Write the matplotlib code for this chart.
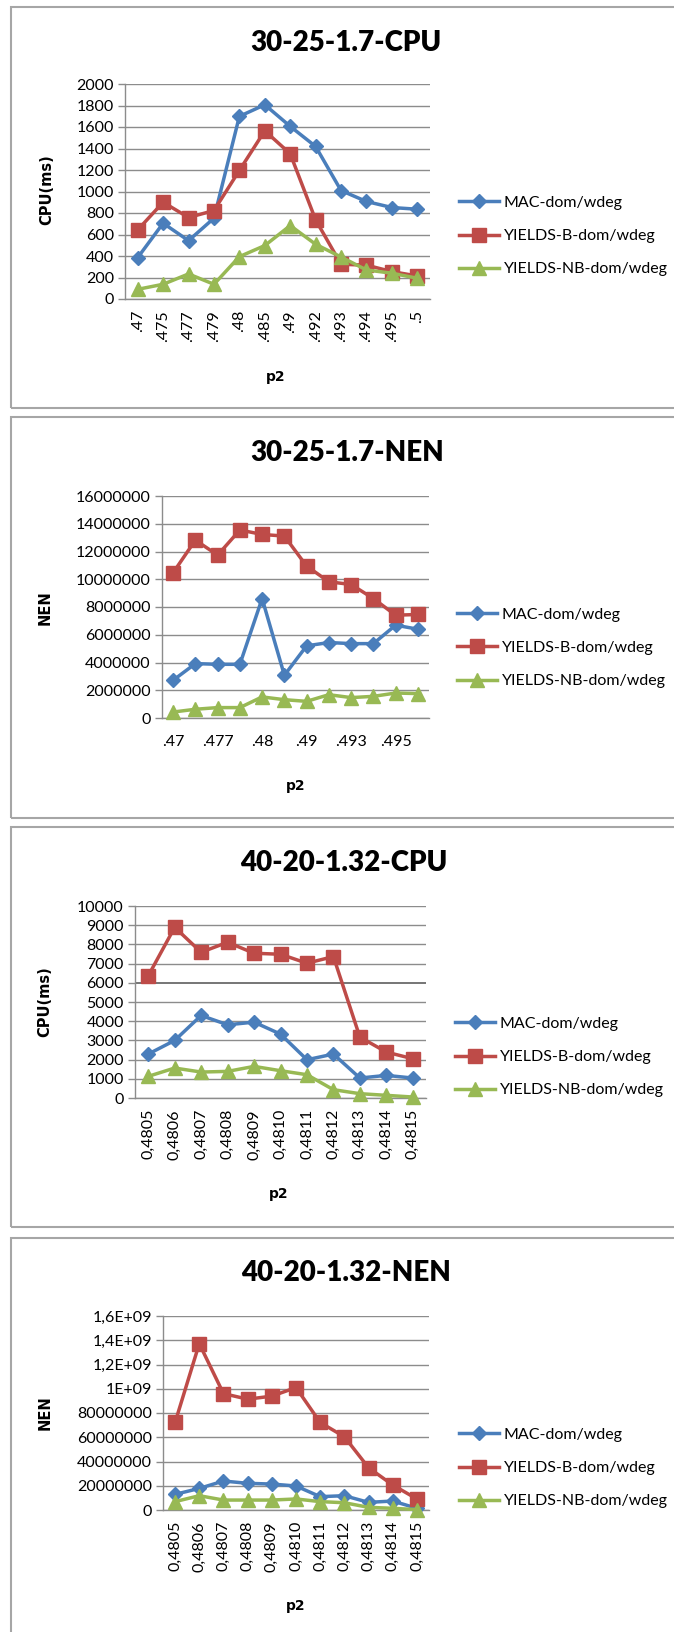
import matplotlib
matplotlib.use("Agg")
import matplotlib.pyplot as plt
from matplotlib.patches import Rectangle

W, H = 674, 1632
FONT = ["Lato", "DejaVu Sans"]
BOLD_LABEL = ["DejaVu Sans"]
plt.rcParams["font.family"] = FONT

series_names = ["MAC-dom/wdeg", "YIELDS-B-dom/wdeg", "YIELDS-NB-dom/wdeg"]
colors = ["#4A7EBB", "#BE4B48", "#98B954"]
markers = ["D", "s", "^"]
msizes = [7.5, 9.5, 9.5]

# 30-25-1.7
p2_a = [".47", ".475", ".477", ".479", ".48", ".485", ".49", ".492", ".493", ".494", ".495", ".5"]
cpu_a_mac = [385, 705, 543, 752, 1699, 1807, 1606, 1419, 1009, 907, 851, 835]
cpu_a_b = [643, 900, 758, 823, 1196, 1565, 1351, 736, 323, 315, 255, 214]
cpu_a_nb = [90, 137, 233, 137, 394, 497, 683, 509, 391, 270, 240, 193]

nen_a_mac = [2720000, 3920000, 3870000, 3870000, 8610000, 3080000, 5200000, 5440000, 5360000, 5360000, 6690000, 6400000]
nen_a_b = [10470000, 12820000, 11740000, 13550000, 13230000, 13110000, 10950000, 9820000, 9620000, 8610000, 7410000, 7460000]
nen_a_nb = [430000, 630000, 750000, 750000, 1520000, 1320000, 1200000, 1680000, 1470000, 1560000, 1800000, 1760000]

# 40-20-1.32
p2_b = ["0,4805", "0,4806", "0,4807", "0,4808", "0,4809", "0,4810", "0,4811", "0,4812", "0,4813", "0,4814", "0,4815"]
cpu_b_mac = [2288, 2998, 4298, 3813, 3951, 3328, 1993, 2288, 1040, 1178, 1040]
cpu_b_b = [6360, 8891, 7591, 8111, 7539, 7487, 7019, 7366, 3172, 2392, 2045]
cpu_b_nb = [1127, 1560, 1352, 1386, 1646, 1421, 1213, 433, 225, 139, 50]

nen_b_mac = [129e6, 178e6, 239e6, 220e6, 214e6, 198e6, 110e6, 118e6, 63e6, 74e6, 14e6]
nen_b_b = [722e6, 1372e6, 960e6, 914e6, 939e6, 1010e6, 722e6, 604e6, 349e6, 206e6, 91e6]
nen_b_nb = [69e6, 118e6, 82e6, 82e6, 82e6, 91e6, 69e6, 60e6, 22e6, 14e6, 3e6]

cpu_a_ticks = list(range(0, 2001, 200))
nen_a_ticks = list(range(0, 16000001, 2000000))
cpu_b_ticks = list(range(0, 10001, 1000))
nen_b_ticks = [i * 2e8 for i in range(9)]
nen_b_ticklabels = ["0", "20000000", "40000000", "60000000", "80000000",
                    "1E+09", "1,2E+09", "1,4E+09", "1,6E+09"]


def fx(x):
    return x / W


def fy(y):
    return 1 - y / H


def panel(fig, box, rect, title, title_xy, ylabel, ylabel_xy, p2_xy, leg_xy,
          labels, data, yticks, yticklabels=None, rotate=True, step=1, dark_grid=None):
    fig.patches.append(Rectangle((fx(11), fy(box[1])), fx(700), box[1] / H - box[0] / H,
                                 transform=fig.transFigure, fill=False,
                                 edgecolor="#a6a6a6", linewidth=1.5))
    l, t, r, b = rect
    ax = fig.add_axes([fx(l), fy(b), fx(r - l), (b - t) / H])
    x = list(range(len(labels)))
    for vals, name, c, m, ms in zip(data, series_names, colors, markers, msizes):
        ax.plot(x, vals, color=c, lw=2.5, marker=m, markersize=ms,
                markerfacecolor=c, markeredgecolor=c, label=name, clip_on=False, zorder=3)
    ax.set_xlim(-0.5, len(labels) - 0.5)
    ax.set_ylim(yticks[0], yticks[-1])
    ax.set_yticks(yticks)
    if yticklabels is not None:
        ax.set_yticklabels(yticklabels)
    else:
        ax.set_yticklabels([str(v) for v in yticks])
    ax.set_xticks(x[::step])
    ax.set_xticklabels(labels[::step], rotation=90 if rotate else 0)
    ax.grid(axis="y", color="#8c8c8c", lw=1.0)
    ax.set_axisbelow(True)
    if dark_grid is not None:
        ax.get_ygridlines()[dark_grid].set_color("#6a6a6a")
        ax.get_ygridlines()[dark_grid].set_linewidth(1.3)
    for s in ["top", "right"]:
        ax.spines[s].set_visible(False)
    for s in ["left", "bottom"]:
        ax.spines[s].set_color("#8c8c8c")
        ax.spines[s].set_linewidth(1.0)
    ax.tick_params(axis="y", length=5, width=1.0, color="#8c8c8c", pad=3, labelsize=11.5)
    ax.tick_params(axis="x", length=0, pad=8 if rotate else 12, labelsize=11.5)
    fig.text(fx(title_xy[0]), fy(title_xy[1]), title, ha="center", va="center",
             fontsize=20, fontweight="heavy")
    fig.text(fx(ylabel_xy[0]), fy(ylabel_xy[1]), ylabel, ha="center", va="center",
             rotation=90, fontsize=10.5, fontweight="bold", family=BOLD_LABEL)
    fig.text(fx(p2_xy[0]), fy(p2_xy[1]), "p2", ha="center", va="center",
             fontsize=10, fontweight="bold", family=BOLD_LABEL)
    ax.legend(loc="center left", bbox_to_anchor=(fx(leg_xy[0]), fy(leg_xy[1])),
              bbox_transform=fig.transFigure, frameon=False, fontsize=11.5,
              borderpad=0, borderaxespad=0, handlelength=2.5, handletextpad=0.3,
              labelspacing=1.2)
    return ax


fig = plt.figure(figsize=(W / 100, H / 100), dpi=100)

panel(fig, (7, 408), (125, 84, 430, 299), "30-25-1.7-CPU", (346, 43),
      "CPU(ms)", (47, 190), (276, 377), (459, 236),
      p2_a, [cpu_a_mac, cpu_a_b, cpu_a_nb], cpu_a_ticks)

panel(fig, (417, 818), (162, 496, 429, 718), "30-25-1.7-NEN", (347, 453),
      "NEN", (45, 608), (296, 786), (457, 648),
      p2_a, [nen_a_mac, nen_a_b, nen_a_nb], nen_a_ticks, rotate=False, step=2)

panel(fig, (827, 1227), (135, 906, 426, 1098), "40-20-1.32-CPU", (344, 863),
      "CPU(ms)", (45, 1002), (279, 1194), (455, 1057),
      p2_b, [cpu_b_mac, cpu_b_b, cpu_b_nb], cpu_b_ticks, dark_grid=6)

panel(fig, (1238, 1645), (163, 1316, 429, 1510), "40-20-1.32-NEN", (346, 1273),
      "NEN", (45, 1413), (296, 1606), (459, 1468),
      p2_b, [nen_b_mac, nen_b_b, nen_b_nb], nen_b_ticks, nen_b_ticklabels)

fig.savefig("out.png", dpi=100)
